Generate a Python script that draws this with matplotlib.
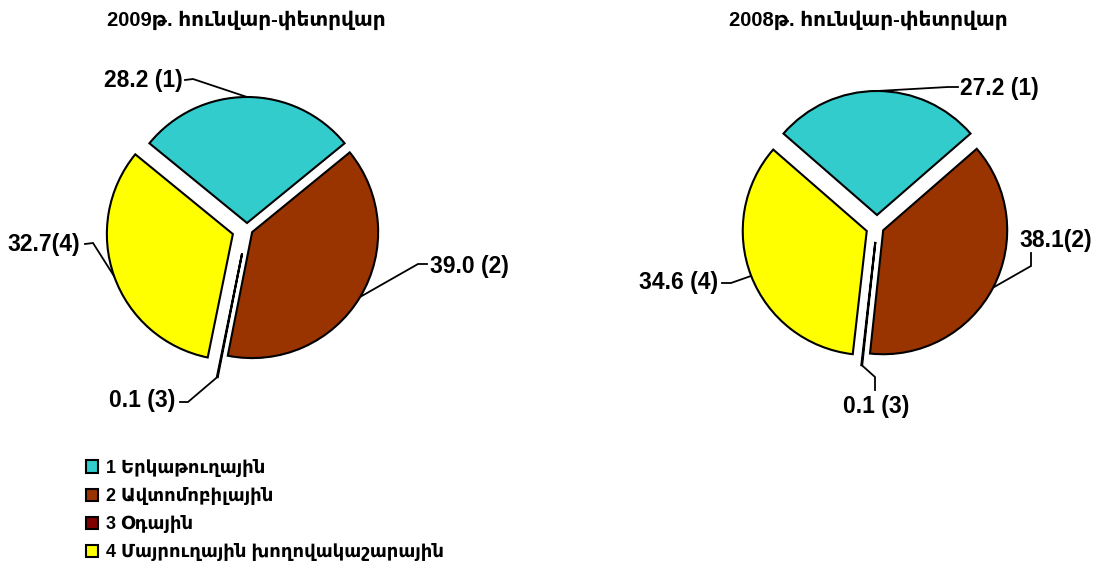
import matplotlib
matplotlib.use("Agg")
import matplotlib.pyplot as plt
import numpy as np

# ---------------- data ----------------
categories = ["1 Երկաթուղային", "2 Ավտոմոբիլային", "3 Օդային",
              "4 Մայրուղային խողովակաշարային"]
values_2009 = [28.2, 39.0, 0.1, 32.7]
values_2008 = [27.2, 38.1, 0.1, 34.6]
labels_2009 = ["28.2 (1)", "39.0 (2)", "0.1 (3)", "32.7(4)"]
labels_2008 = ["27.2 (1)", "38.1(2)", "0.1 (3)", "34.6 (4)"]
titles = ["2009թ. հունվար-փետրվար", "2008թ. հունվար-փետրվար"]

# ---------------- style / layout ----------------
colors = ["#33CCCC", "#993300", "#800000", "#FFFF00"]
W, H = 1099, 564
FAM = ["Liberation Sans", "DejaVu Sans"]


def Y(y):  # image-pixel y (top-down) -> axes data y
    return H - y


fig = plt.figure(figsize=(W / 100, H / 100), dpi=100)
ax = fig.add_axes([0, 0, 1, 1])

pies = [
    dict(vals=values_2009, labels=labels_2009, center=(247, Y(229)), r=126,
         explode=[6, 6, 25, 15], title=titles[0], title_x=246,
         lab=[(183, 81, "right", [(185, 80), (193, 79)]),
              (430, 266, "left", [(427, 264), (418, 264)]),
              (175, 401, "right", [(180, 402), (188, 402)]),
              (80, 245, "right", [(85, 244), (93, 243)])]),
    dict(vals=values_2008, labels=labels_2008, center=(877, Y(227)), r=124,
         explode=[12, 7, 15, 11], title=titles[1], title_x=868,
         lab=[(960, 88, "left", [(958, 87), (948, 87)]),
              (1019, 241, "left", [(1031, 253), (1031, 266)]),
              (876, 406, "center", [(875, 390), (875, 377)]),
              (718, 283, "right", [(722, 283), (731, 283)])]),
]

legend_handles = None
for p in pies:
    vals = p["vals"]
    start = 90 + vals[0] * 3.6 / 2
    wedges, _ = ax.pie(vals, colors=colors, startangle=start, counterclock=False,
                       explode=p["explode"], radius=p["r"], center=p["center"],
                       wedgeprops=dict(edgecolor="black", linewidth=1.5),
                       frame=True)
    if legend_handles is None:
        legend_handles = wedges
    for w, txt, (tx, ty, ha, pts) in zip(wedges, p["labels"], p["lab"]):
        mid = np.deg2rad((w.theta1 + w.theta2) / 2)
        cx, cy = w.center
        ax_pt = (cx + w.r * np.cos(mid), cy + w.r * np.sin(mid))
        xs = [q[0] for q in pts] + [ax_pt[0]]
        ys = [Y(q[1]) for q in pts] + [ax_pt[1]]
        ax.plot(xs, ys, color="black", lw=1.3, zorder=0.5,
                solid_joinstyle="miter")
        ax.text(tx, Y(ty), txt, ha=ha, va="center", fontsize=16.5,
                fontweight="bold", family=FAM)
    ax.text(p["title_x"], Y(20), p["title"], ha="center", va="center",
            fontsize=14.5, fontweight="bold", family=FAM)

ax.set_xlim(0, W)
ax.set_ylim(0, H)
ax.set_aspect("auto")
ax.axis("off")

leg = ax.legend(legend_handles, categories, loc="upper left",
                bbox_to_anchor=(86 / W, 1 - 459 / H), bbox_transform=fig.transFigure,
                frameon=False, borderpad=0, borderaxespad=0,
                handlelength=0.68, handleheight=0.68, handletextpad=0.4,
                labelspacing=0.56,
                prop=dict(family=FAM, weight="bold", size=13))

fig.savefig("out.png", dpi=100, facecolor="white")
